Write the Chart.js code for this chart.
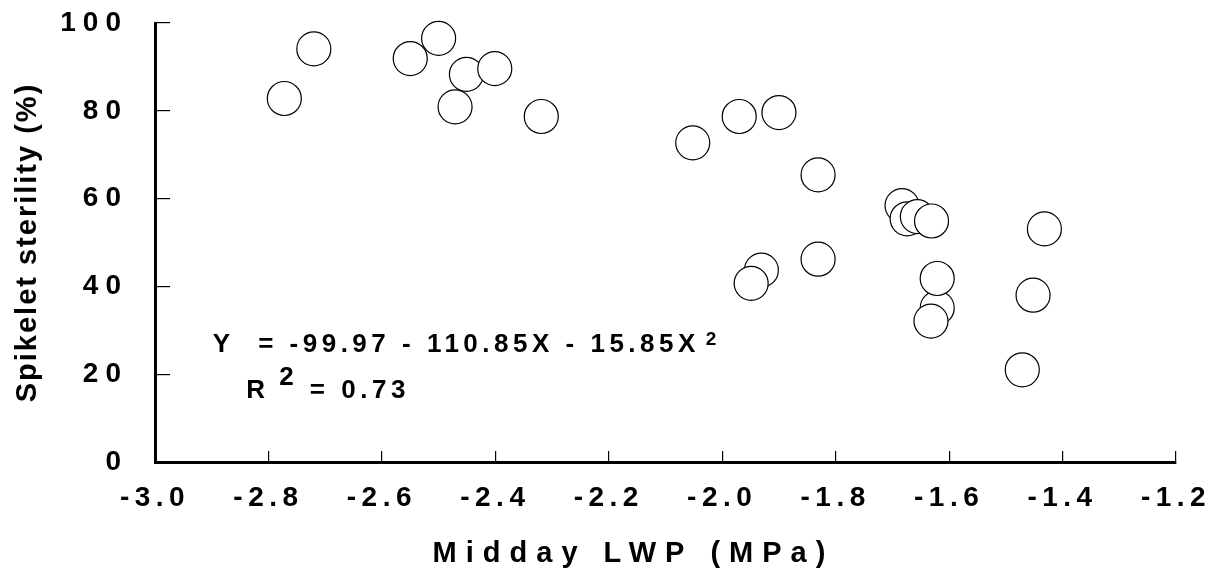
<!DOCTYPE html>
<html>
<head>
<meta charset="utf-8">
<script src="https://cdn.jsdelivr.net/npm/chart.js@4"></script>
<style>
  html, body { margin: 0; padding: 0; background: #fff; }
  canvas { display: block; }
</style>
</head>
<body>
<canvas id="c" width="1214" height="577"></canvas>
<script>
// ---- data ----
const lwpValues = [
  -2.772, -2.720, -2.550, -2.500, -2.451, -2.401, -2.471, -2.319,
  -2.052, -1.970, -1.900, -1.831, -1.831, -1.931, -1.949,
  -1.683, -1.674, -1.656, -1.631, -1.432,
  -1.621, -1.621, -1.632, -1.452, -1.471
];
const sterilityValues = [
  82.8, 94.1, 91.9, 96.5, 88.3, 89.6, 80.9, 78.7,
  72.7, 78.7, 79.6, 65.4, 46.2, 43.7, 40.7,
  58.4, 55.4, 55.9, 54.9, 53.1,
  35.1, 41.8, 32.1, 38.0, 21.0
];
const xTickValues = [-3.0, -2.8, -2.6, -2.4, -2.2, -2.0, -1.8, -1.6, -1.4, -1.2];
const yTickValues = [0, 20, 40, 60, 80, 100];
const xTitle = 'Midday LWP (MPa)';
const yTitle = 'Spikelet sterility (%)';
const equationText = 'Y  = -99.97 - 110.85X - 15.85X';
const equationSup = '2';
const r2Label = 'R';
const r2Sup = '2';
const r2Value = '= 0.73';

const FONT = "'Liberation Sans', Arial, Helvetica, sans-serif";

const points = lwpValues.map((x, i) => ({ x: x, y: sterilityValues[i] }));

function zeroPadding(s) {
  s.paddingLeft = 0; s.paddingRight = 0; s.paddingTop = 0; s.paddingBottom = 0;
}

// letter spacing (and small offsets) for axis labels / titles
const spacingPlugin = {
  id: 'spacing',
  beforeDraw(chart) {
    const cfg = {
      x: { labels: '5.5px', title: '9px', dx: -32, dy: 0 },
      y: { labels: '7px', title: '2px', dx: 0, dy: 0 }
    };
    ['x', 'y'].forEach(id => {
      const s = chart.scales[id];
      if (!s || s.__patched) return;
      const dl = s.drawLabels, dt = s.drawTitle;
      s.drawLabels = function (area) {
        const c = this.ctx; c.save(); c.letterSpacing = cfg[id].labels; dl.call(this, area); c.restore();
      };
      s.drawTitle = function () {
        const c = this.ctx; c.save(); c.letterSpacing = cfg[id].title;
        c.translate(cfg[id].dx, cfg[id].dy); dt.call(this); c.restore();
      };
      s.__patched = true;
    });
  }
};

// regression equation annotation, positioned through the scales
const equationPlugin = {
  id: 'equation',
  afterDraw(chart) {
    const { ctx, scales: { x, y } } = chart;
    ctx.save();
    ctx.fillStyle = '#000';
    ctx.textAlign = 'left';
    ctx.textBaseline = 'alphabetic';
    ctx.letterSpacing = '4.5px';
    ctx.font = 'bold 26px ' + FONT;
    const x0 = x.getPixelForValue(-2.898);
    ctx.fillText(equationText, x0, y.getPixelForValue(25.06));
    const w = ctx.measureText(equationText).width;
    ctx.fillText(r2Label, x.getPixelForValue(-2.839), y.getPixelForValue(14.58));
    ctx.fillText(r2Sup, x.getPixelForValue(-2.781), y.getPixelForValue(17.54));
    ctx.fillText(r2Value, x.getPixelForValue(-2.727), y.getPixelForValue(14.58));
    ctx.font = 'bold 19px ' + FONT;
    ctx.fillText(equationSup, x0 + w + 6, y.getPixelForValue(26.65));
    ctx.restore();
  }
};

new Chart(document.getElementById('c'), {
  type: 'scatter',
  data: {
    datasets: [{
      data: points,
      pointStyle: 'circle',
      pointRadius: 17,
      pointHoverRadius: 17,
      pointBackgroundColor: '#ffffff',
      pointBorderColor: '#000000',
      pointBorderWidth: 1.2,
      showLine: false,
      clip: false
    }]
  },
  options: {
    responsive: false,
    animation: false,
    events: [],
    layout: { padding: { left: 0, right: 38, top: 23, bottom: 0 } },
    plugins: { legend: { display: false }, tooltip: { enabled: false } },
    scales: {
      x: {
        type: 'linear',
        position: 'bottom',
        min: -3.0,
        max: -1.2,
        afterBuildTicks: s => { s.ticks = xTickValues.map(v => ({ value: v })); },
        afterFit: s => { s.height = 115; zeroPadding(s); },
        ticks: {
          color: '#000',
          font: { family: FONT, size: 28, weight: 'bold' },
          padding: 30,
          maxRotation: 0,
          autoSkip: false,
          callback: v => Number(v).toFixed(1)
        },
        grid: { drawOnChartArea: false, drawTicks: true, tickLength: -11, color: '#000', lineWidth: 1.2 },
        border: { display: true, color: '#000', width: 3 },
        title: {
          display: true, text: xTitle, color: '#000',
          font: { family: FONT, size: 29, weight: 'bold' },
          padding: { top: 0, bottom: 6 }
        }
      },
      y: {
        type: 'linear',
        position: 'left',
        min: 0,
        max: 100,
        afterBuildTicks: s => { s.ticks = yTickValues.map(v => ({ value: v })); },
        afterFit: s => { s.width = 155; zeroPadding(s); },
        ticks: {
          color: '#000',
          font: { family: FONT, size: 28, weight: 'bold' },
          padding: 42,
          callback: v => String(v)
        },
        grid: { drawOnChartArea: false, drawTicks: true, tickLength: -15, color: '#000', lineWidth: 1.2 },
        border: { display: true, color: '#000', width: 3 },
        title: {
          display: true, text: yTitle, color: '#000',
          font: { family: FONT, size: 29, weight: 'bold' },
          padding: { top: 11, bottom: 0 }
        }
      }
    }
  },
  plugins: [spacingPlugin, equationPlugin]
});
</script>
</body>
</html>
